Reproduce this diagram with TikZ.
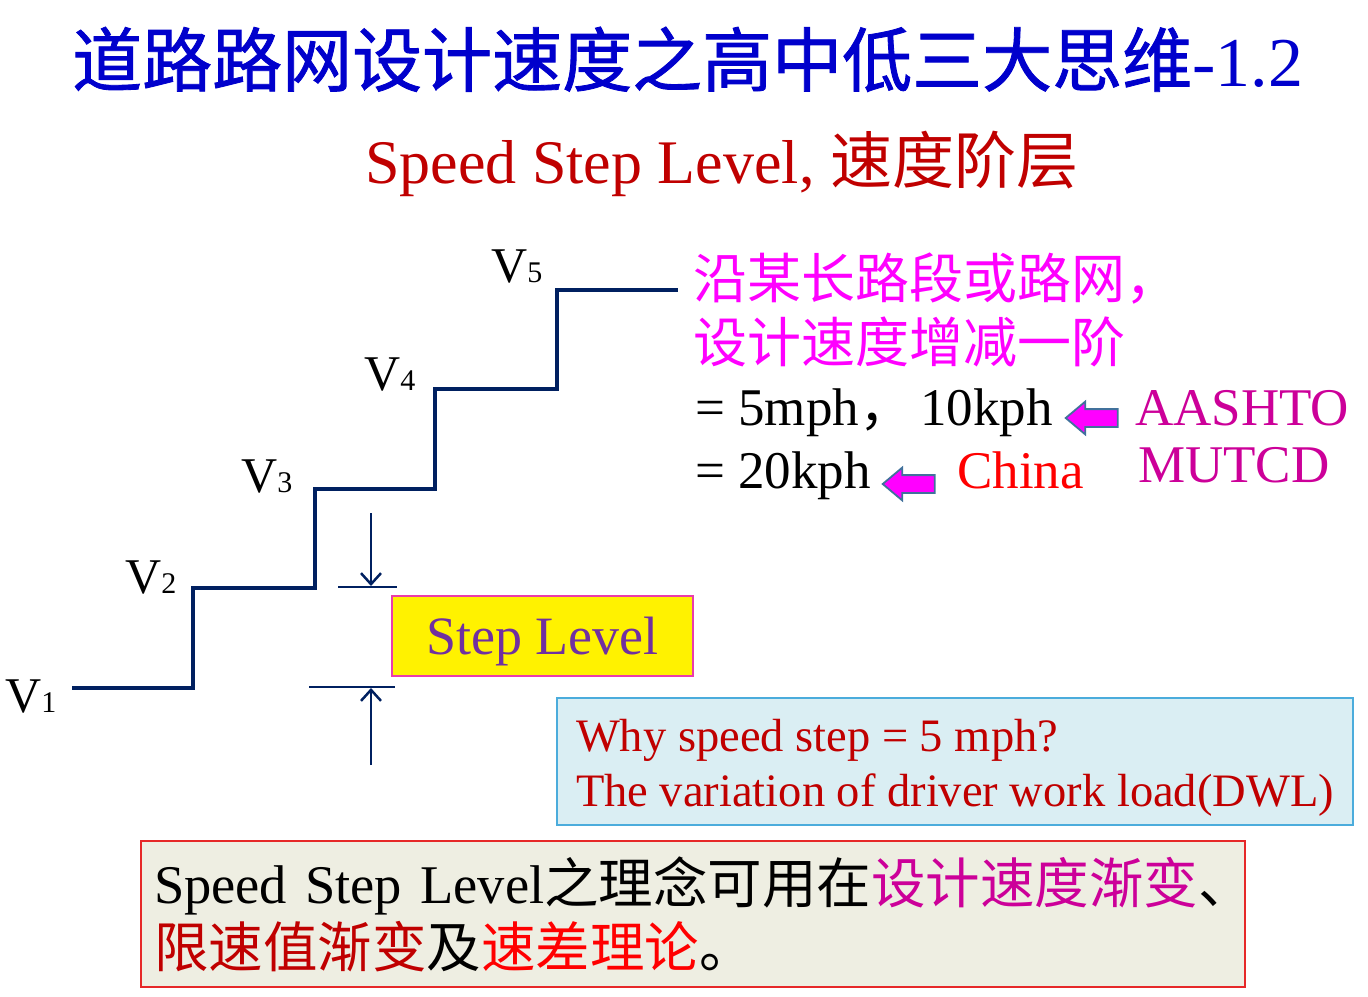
\documentclass[tikz,border=0pt]{standalone}
\usepackage{fontspec}
\setmainfont{Liberation Serif}
\newfontfamily\cjk{Noto Sans CJK SC}
\newfontfamily\cjkheavy[FakeBold=1.2]{Noto Sans CJK SC}
\usepackage{xcolor}
\usetikzlibrary{arrows}
\usetikzlibrary{arrows.meta}
\usetikzlibrary{shapes.arrows}
\definecolor{titleblue}{RGB}{0, 0, 204}
\definecolor{subred}{RGB}{192, 0, 0}
\definecolor{pinktxt}{RGB}{255, 0, 255}
\definecolor{magtxt}{RGB}{204, 0, 153}
\definecolor{stairnavy}{RGB}{0, 32, 96}
\definecolor{arrowedge}{RGB}{65, 113, 156}
\definecolor{infoedge}{RGB}{75, 172, 220}
\definecolor{infofill}{RGB}{218, 238, 243}
\definecolor{notefill}{RGB}{238, 238, 226}
\definecolor{noteedge}{RGB}{230, 40, 40}
\definecolor{purpletxt}{RGB}{112, 48, 160}
\definecolor{stepedge}{RGB}{235, 60, 170}
\newcommand{\fsz}[1]{\fontsize{#1}{#1}\selectfont}

\begin{document}
\begin{tikzpicture}[x=1pt,y=-1pt,
  txt/.style={inner sep=0pt,anchor=base west},
  vlabel/.style={txt,font=\fsz{50}},
  stair/.style={draw=stairnavy,line width=3.2pt},
  dim/.style={draw=stairnavy,line width=2.5pt},
  dimtip/.style={-{Straight Barb[length=11pt,width=20pt,line width=2.5pt]}},
  stepbox/.style={draw=stepedge,fill=yellow,line width=1.2pt,text=purpletxt,font=\fsz{54},
    minimum width=301pt,minimum height=80pt,inner sep=0pt,text depth=0pt},
  fatarrow/.style={single arrow,draw=arrowedge,fill=pinktxt,line width=1.8pt,
    inner xsep=0pt,inner ysep=8pt,minimum height=52pt,single arrow head extend=7.5pt,
    single arrow tip angle=80,shape border rotate=180},
  infobox/.style={draw=infoedge,fill=infofill,line width=1.5pt,text=subred,
    font=\fontsize{46.5}{55}\selectfont,align=left,minimum width=796pt,minimum height=127pt,
    inner sep=0pt},
  notebox/.style={draw=noteedge,fill=notefill,line width=1.5pt,
    font=\fontsize{54.5}{64}\selectfont,align=left,minimum width=1104pt,minimum height=146pt,
    text width=1078pt,inner xsep=13pt,inner ysep=0pt}]
  \useasboundingbox (0,0) rectangle (1368,996);

  % titles
  \node[txt,text=titleblue,font=\fsz{70}] (title) at (72,86) {{\cjkheavy 道路路网设计速度之高中低三大思维}-1.2};
  \node[txt,text=subred,font=\fsz{62}] (subtitle) at (365,183) {Speed Step Level, {\cjk 速度阶层}};

  % speed steps
  \draw[stair] (72,688) -| (193,588) -| (315,489) -| (435,389) -| (557,290) -- (678,290);
  \foreach \i/\x/\y in {1/5/712, 2/125/593, 3/241/492, 4/364/390, 5/491/282}
    \node[vlabel] (v\i) at (\x,\y) {V{\fsz{30}\i}};

  % step level dimension
  \coordinate (dtop) at (371,513);
  \coordinate (dbot) at (371,765);
  \draw[dim] (338,587) -- (397,587);
  \draw[dim] (309,687) -- (395,687);
  \draw[dim,dimtip] (dtop) -- (371,586);
  \draw[dim,dimtip] (dbot) -- (371,688);
  \node[stepbox] (steplvl) at (542.5,636) {Step Level};

  % right hand notes
  \node[txt,text=pinktxt,font=\cjk\fsz{54}] (along) at (693,298) {沿某长路段或路网，};
  \node[txt,text=pinktxt,font=\cjk\fsz{54}] (plusminus) at (693,362) {设计速度增减一阶};
  \node[txt,font=\fsz{53}] (usval) at (695,425) {= 5mph{\cjk ，}\hspace{8pt}10kph};
  \node[txt,font=\fsz{53}] (cnval) at (695,488) {= 20kph};
  \node[fatarrow] (arrus) at (1097,418) {};
  \node[fatarrow] (arrcn) at (914,484) {};
  \node[txt,text=magtxt,font=\fsz{53}] (aashto) at (1135,425) {AASHTO};
  \node[txt,text=magtxt,font=\fsz{53}] (mutcd) at (1138,482) {MUTCD};
  \node[txt,text=red,font=\fsz{53}] (china) at (957,488) {China};

  % boxes
  \node[infobox] (why) at (955,761.5) {\rule{0pt}{44pt}Why speed step = 5 mph?\\The variation of driver work load(DWL)};
  \node[notebox] (idea) at (693,914) {Speed Step Level{\cjk 之理念可用在\textcolor{magtxt}{设计速度渐变}、}\\
    {\cjk\textcolor{subred}{限速值渐变}及\textcolor{red}{速差理论}。}};
\end{tikzpicture}
\end{document}
